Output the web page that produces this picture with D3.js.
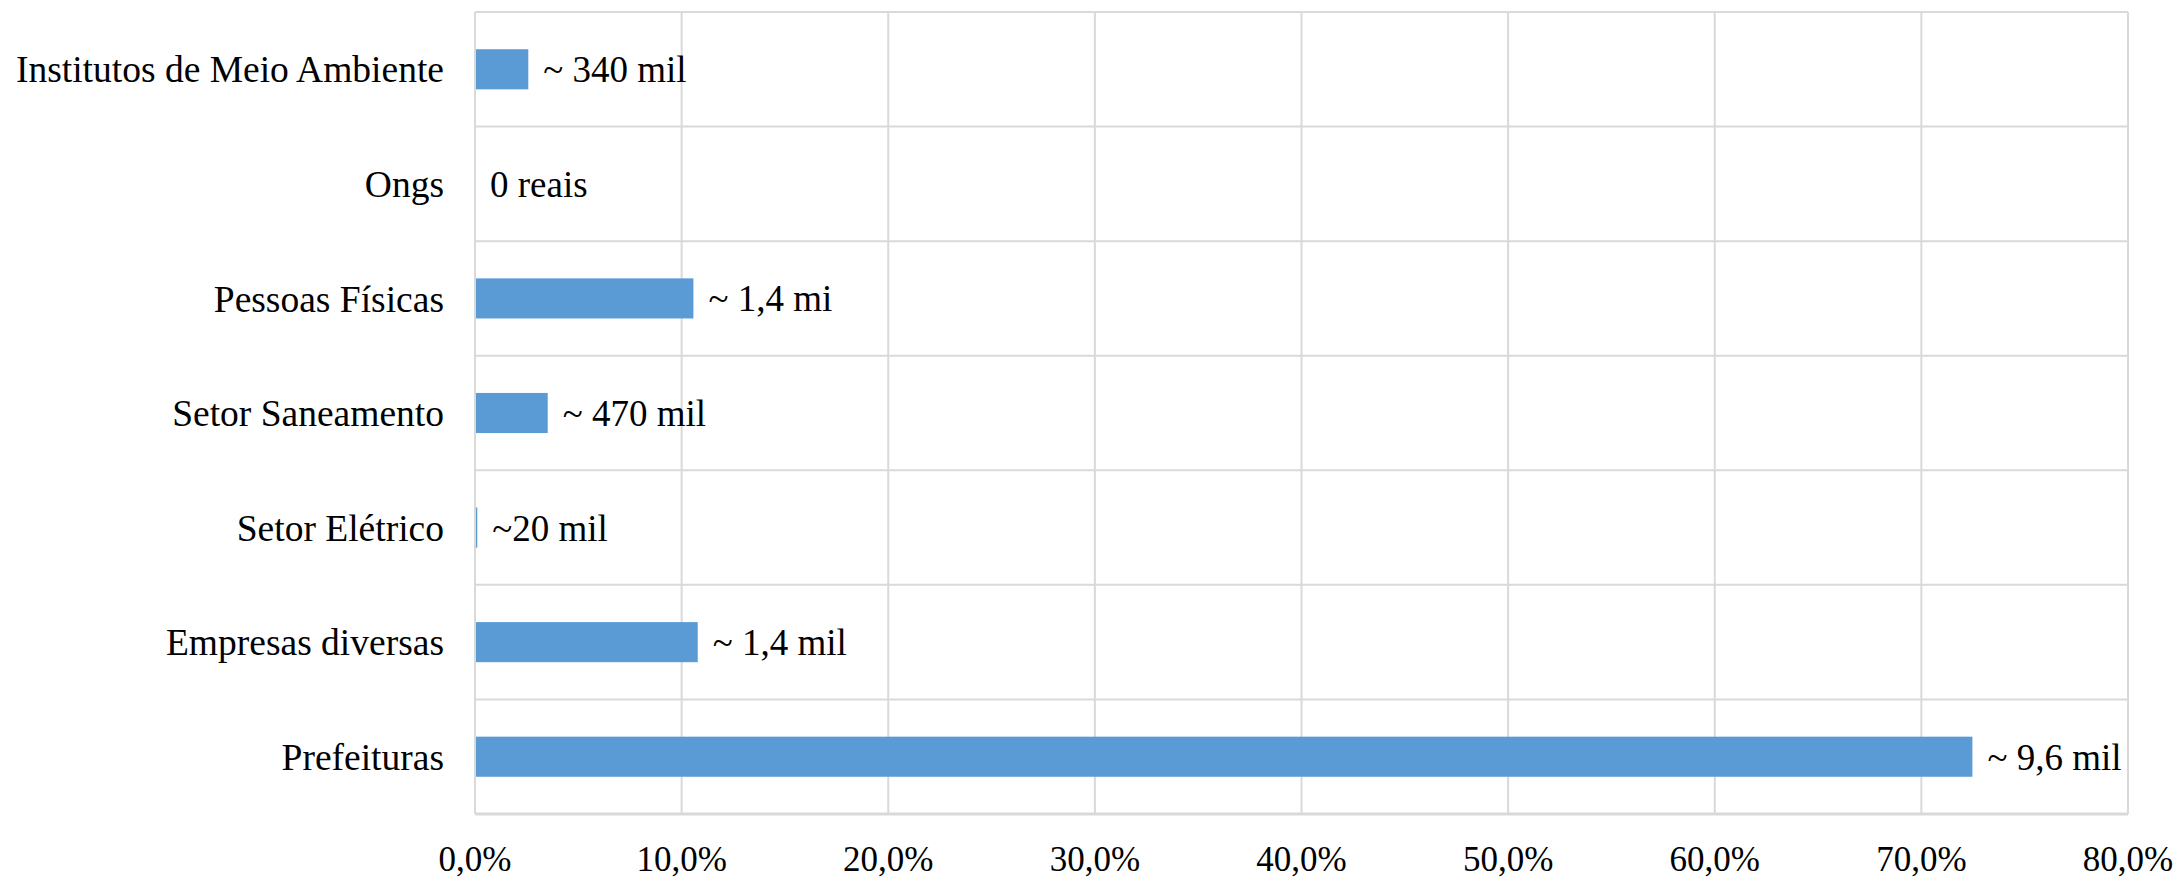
<!DOCTYPE html>
<html>
<head>
<meta charset="utf-8">
<script src="https://cdn.jsdelivr.net/npm/d3@7"></script>
<style>
  body { margin: 0; background: #fff; }
  text { font-family: "Liberation Serif", "Times New Roman", serif; fill: #000; }
</style>
</head>
<body>
<div id="chart"></div>
<script>
var categories = ['Institutos de Meio Ambiente', 'Ongs', 'Pessoas Físicas', 'Setor Saneamento', 'Setor Elétrico', 'Empresas diversas', 'Prefeituras'];
var shares = [2.58, 0, 10.57, 3.52, 0.11, 10.78, 72.47];
var valueLabels = ['~ 340 mil', '0 reais', '~ 1,4 mi', '~ 470 mil', '~20 mil', '~ 1,4 mil', '~ 9,6 mil'];
var ticks = [0, 10, 20, 30, 40, 50, 60, 70, 80];

var width = 2180;
var height = 878;
var margin = { top: 12, right: 52, bottom: 64, left: 475 };
var innerW = width - margin.left - margin.right;
var innerH = height - margin.top - margin.bottom;

var svg = d3.select('#chart').append('svg')
  .attr('width', width)
  .attr('height', height)
  .append('g')
  .attr('transform', 'translate(' + margin.left + ',' + margin.top + ')');

var x = d3.scaleLinear().domain([0, 80]).range([0, innerW]);
var y = d3.scaleBand().domain(categories).range([0, innerH]).padding(0);
var barH = y.bandwidth() * 0.35;

// vertical grid
svg.selectAll('.vgrid').data(ticks).enter().append('line')
  .attr('x1', function(d) { return x(d); })
  .attr('x2', function(d) { return x(d); })
  .attr('y1', 0)
  .attr('y2', innerH)
  .attr('stroke', '#d9d9d9')
  .attr('stroke-width', 2);

// horizontal grid at band edges
svg.selectAll('.hgrid').data(categories).enter().append('line')
  .attr('x1', 0)
  .attr('x2', innerW)
  .attr('y1', function(d) { return y(d); })
  .attr('y2', function(d) { return y(d); })
  .attr('stroke', '#d9d9d9')
  .attr('stroke-width', 2);

svg.append('line')
  .attr('x1', 0).attr('x2', innerW)
  .attr('y1', innerH).attr('y2', innerH)
  .attr('stroke', '#d9d9d9')
  .attr('stroke-width', 3);

// bars
svg.selectAll('.bar').data(categories).enter().append('rect')
  .attr('x', x(0) + 1)
  .attr('y', function(d) { return y(d) + (y.bandwidth() - barH) / 2; })
  .attr('width', function(d, i) { return Math.max(0, x(shares[i]) - x(0) - 1); })
  .attr('height', barH)
  .attr('fill', '#5b9bd5');

// value labels
svg.selectAll('.vlabel').data(categories).enter().append('text')
  .attr('x', function(d, i) { return x(shares[i]) + 15; })
  .attr('y', function(d) { return y(d) + y.bandwidth() / 2; })
  .attr('dy', '0.35em')
  .style('font-size', '37px')
  .text(function(d, i) { return valueLabels[i]; });

// category labels
svg.selectAll('.clabel').data(categories).enter().append('text')
  .attr('x', -31)
  .attr('y', function(d) { return y(d) + y.bandwidth() / 2; })
  .attr('dy', '0.35em')
  .attr('text-anchor', 'end')
  .style('font-size', '37.5px')
  .text(function(d) { return d; });

// x tick labels
svg.selectAll('.tlabel').data(ticks).enter().append('text')
  .attr('x', function(d) { return x(d); })
  .attr('y', innerH + 57)
  .attr('text-anchor', 'middle')
  .style('font-size', '35px')
  .text(function(d) { return d.toFixed(1).replace('.', ',') + '%'; });
</script>
</body>
</html>
